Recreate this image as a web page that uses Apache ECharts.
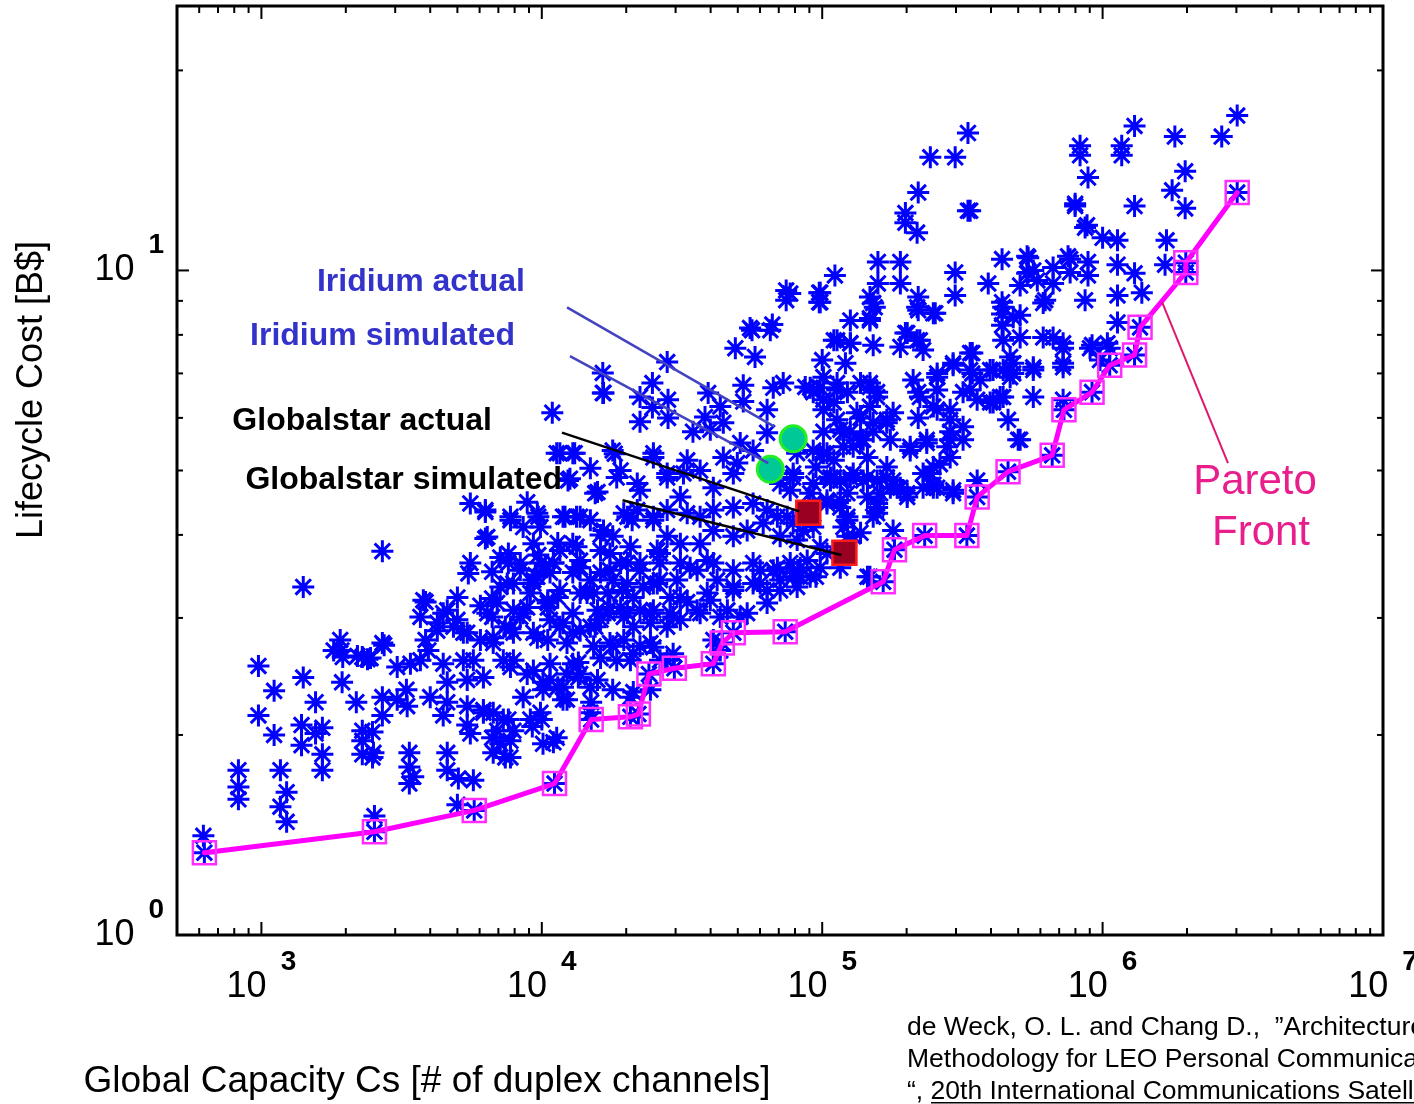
<!DOCTYPE html>
<html><head><meta charset="utf-8">
<script src="https://cdn.jsdelivr.net/npm/echarts@6/dist/echarts.min.js"></script>
<style>html,body{margin:0;padding:0;background:#fff;overflow:hidden}#c{width:1414px;height:1104px}</style>
</head><body><div id="c"></div>
<script>
// ---------- axis ranges & ticks ----------
const xRange = [500, 1e7];
const yRange = [1, 25];
const xMajorTicks = [1e3, 1e4, 1e5, 1e6, 1e7];
const xMinorTicks = [600,700,800,900, 2e3,3e3,4e3,5e3,6e3,7e3,8e3,9e3, 2e4,3e4,4e4,5e4,6e4,7e4,8e4,9e4,
  2e5,3e5,4e5,5e5,6e5,7e5,8e5,9e5, 2e6,3e6,4e6,5e6,6e6,7e6,8e6,9e6];
const yMajorTicks = [1, 10];
const yMinorTicks = [2,3,4,5,6,7,8,9,20];

// ---------- simulated architectures (Global capacity, Lifecycle cost B$) ----------
const simLowLeft = [[1410,3.34],[2700,3.78],[976,2.54],[1410,2.44],[1110,2.33],[1930,2.68],[1950,2.62],[2390,2.60],[2290,2.62],[2740,2.73],[1940,2.40],[1560,2.24],[2180,2.24],[2700,2.28],[2700,2.14],[976,2.14],[1110,2.00],[1390,2.07],[1390,1.93],[1560,2.01],[1650,2.05],[1650,1.87],[1650,1.77],[2290,1.96],[2490,2.02],[2290,1.87],[2490,1.85],[828,1.77],[828,1.67],[828,1.60],[1169,1.77],[1230,1.64],[1169,1.56],[1230,1.48],[3370,1.88],[3370,1.79],[3370,1.69],[3480,1.73],[4600,1.88],[4600,1.77],[5040,1.72],[5700,1.71],[5000,1.57],[2530,1.51],[621,1.41],[1910,2.78],[2700,2.75],[1810,2.68],[2200,2.63],[2450,2.61],[2290,2.03],[2510,1.88]];
const simLowMid = [[3850,3.17],[5000,3.22],[4600,3.08],[3690,3.01],[5000,2.98],[4240,2.95],[6650,3.21],[6650,3.01],[6040,3.13],[5250,2.85],[6040,2.78],[6710,2.75],[3850,2.78],[3940,2.68],[3690,2.59],[3050,2.53],[3400,2.56],[4450,2.56],[5250,2.59],[5700,2.59],[7290,2.59],[5420,2.42],[6190,2.44],[4600,2.40],[3290,2.34],[3050,2.26],[4000,2.28],[4600,2.24],[3310,2.21],[4450,2.14],[5420,2.21],[5420,2.07],[6190,2.16],[6710,2.16],[7290,2.11],[6650,1.98],[7110,1.94],[6710,1.88],[7410,1.85]];
const simCore1 = [[10900,6.11],[16600,6.54],[11600,5.31],[13100,5.31],[12400,4.83],[14900,5.04],[18200,5.30],[18500,4.88],[15500,4.62],[22400,4.67],[25000,5.23],[28000,4.88],[25000,4.21],[5560,4.46],[6290,4.33],[7730,4.21],[8870,4.48],[9720,4.26],[9890,4.11],[12100,4.26],[13700,4.26],[19600,4.31],[21000,4.21],[6290,3.95],[11400,3.89],[13300,3.84],[16200,4.00],[17500,3.75],[26400,3.75],[7600,3.75],[9720,3.73],[10300,3.60],[5560,3.63],[5470,3.50],[6650,3.52],[7600,3.63],[9480,3.48],[9330,3.38],[13500,3.57],[14900,3.42],[20200,3.63],[22400,3.63],[17900,3.42],[7110,3.34],[7920,3.38],[9100,3.27],[10500,3.19],[11400,3.22],[15300,3.27],[19400,3.30],[25800,3.38],[28700,3.22],[3780,3.19],[4450,3.05],[6390,3.05],[7920,3.08],[8870,3.11],[4240,2.87],[4840,2.91],[5420,2.85],[6710,2.80],[7730,2.89],[9330,2.85],[10700,2.98],[11900,2.95],[13700,2.87],[15500,2.91],[17200,3.05],[19100,3.11],[22400,3.08],[24400,2.95],[28700,3.05],[7920,2.85],[10500,2.78],[12300,2.75],[12900,2.56],[15300,2.72],[17900,2.72],[21200,2.65],[24400,2.75],[28000,2.59],[7920,2.59],[9330,2.50],[10700,2.42],[11900,2.36],[13700,2.47],[15800,2.42],[8580,2.28],[10100,2.34],[11900,2.26],[14900,2.36],[17900,2.34],[20700,2.28],[7920,2.03],[9100,2.11],[10100,1.94],[11300,1.98],[9890,2.16],[14900,2.16],[6190,2.18],[6930,2.03],[7600,2.11],[7730,1.85],[5560,2.01]];
const simCore2 = [[7730,1.96],[9250,2.06],[10000,2.11],[11000,1.95],[15000,2.24],[21200,2.32],[24400,2.34],[10700,2.56],[12300,2.47],[11400,2.36],[12300,2.26],[13500,2.44],[13500,2.57],[7730,2.53],[8870,2.47],[10100,2.40],[7410,2.91],[8380,3.01],[9640,2.80],[10500,3.16],[11600,2.91],[12900,2.85],[14900,2.91],[16200,2.98],[17500,2.75],[18500,2.59],[16200,2.61],[19600,2.78],[20700,2.59],[22400,2.72],[25000,2.71],[29400,2.65],[26400,2.59],[17500,3.11],[20200,3.05],[21200,2.91],[25000,3.08],[28000,2.91],[31200,2.98],[33000,3.17],[36700,3.05],[39900,3.19],[45900,3.08],[51000,3.01],[42200,3.42],[48200,3.34],[56700,3.38],[63600,3.30],[78800,3.46],[90600,3.46],[98400,3.57],[83500,3.57],[69200,3.57],[60100,3.54],[9330,3.42],[10700,3.51],[12900,3.51],[14500,3.27],[13700,3.57],[17500,3.54],[20200,3.38],[23000,3.34],[26400,3.42],[30400,3.42],[33800,3.57],[38900,3.66],[7530,3.38],[8380,3.63],[9890,3.63],[11000,3.63],[40900,2.78],[43300,2.68]];
const simCore3 = [[28000,7.28],[49000,7.64],[57600,7.41],[56200,8.13],[65300,8.13],[16500,7.01],[16500,6.54],[24800,6.77],[22400,6.45],[28200,6.39],[24800,6.22],[22400,5.92],[28200,6.00],[39200,6.54],[43300,6.24],[38200,6.02],[44400,5.90],[34600,5.72],[39900,5.76],[52300,6.72],[52300,6.35],[63600,6.17],[63600,5.70],[72600,6.77],[66900,6.66],[87000,6.68],[51000,5.50],[44400,5.23],[49800,5.13],[48200,4.95],[56700,5.36],[78800,4.88],[70800,4.78],[81400,5.31],[17900,5.36],[19100,5.00],[25000,5.31],[21900,4.78],[28000,4.95],[33000,5.18],[32000,4.95],[36700,5.00],[40900,4.71],[12900,5.31],[11300,5.31],[12600,4.86],[15800,4.64],[31200,4.56],[28000,4.36],[25000,4.26],[21900,4.36],[33000,4.31],[36700,4.26],[40900,4.36],[48200,4.40],[56700,4.46],[63600,4.36],[69200,4.26],[20200,4.26],[17900,3.98],[16600,4.06],[14900,4.21],[13300,4.26],[11900,4.26],[9640,4.31],[8580,4.11],[7730,4.26],[6290,4.36],[6390,3.97],[28000,3.98],[25800,3.79],[31200,3.88],[36700,3.88],[40900,4.06],[48200,3.98],[54000,4.06],[61600,4.17],[70800,3.98],[78800,4.17],[85600,4.06],[9330,3.88],[11600,3.79],[12900,3.88],[16200,3.79],[20700,3.84],[11000,3.63],[13700,3.66],[16200,3.51],[19100,3.63],[22400,3.54],[26400,3.63],[31200,3.63],[35800,3.54],[40900,3.63],[48200,3.54],[56700,3.63],[66900,3.54],[76900,3.63],[83500,3.46],[7110,3.70],[8380,3.54],[9640,3.46],[11600,3.30],[13700,3.27],[17200,3.27],[21200,3.22],[25000,3.38],[31200,3.22],[38900,3.27],[48200,3.30],[60100,3.38],[70800,3.30],[6930,3.16],[8580,3.05],[10500,3.11],[12900,3.05],[15800,3.08],[19600,3.01],[24400,3.05],[29400,3.01],[35800,3.08],[43300,3.01],[54000,3.05],[63600,3.16]];
const simUpper1 = [[152000,8.93],[218000,8.80],[249000,8.62],[442000,8.80],[480000,8.50],[614000,8.93],[126000,8.41],[148000,8.41],[126000,7.77],[110000,7.85],[152000,7.72],[201000,8.05],[223000,7.85],[190000,7.67],[229000,7.59],[293000,7.25],[337000,7.51],[337000,7.08],[397000,7.08],[442000,7.08],[480000,7.00],[566000,7.08],[566000,6.45],[431000,6.45],[407000,6.33],[366000,6.84],[318000,6.56],[211000,6.84],[257000,6.91],[223000,6.45],[249000,6.24],[286000,6.17],[318000,5.82],[286000,5.72],[279000,5.43],[318000,5.56],[460000,5.96],[500000,5.56],[179000,6.11],[170000,5.90],[152000,5.90],[137000,6.00],[148000,6.68],[157000,6.45],[137000,6.77],[123000,6.56],[113000,6.61],[110000,6.33],[101000,6.17],[98400,6.66],[92900,6.56],[116000,5.76],[206000,5.36],[236000,5.50],[249000,5.06],[229000,4.95],[263000,5.11],[249000,4.71],[201000,4.62],[179000,4.83],[170000,5.06],[157000,4.83],[145000,5.23],[140000,5.56],[129000,5.43],[119000,5.70],[293000,4.62],[257000,4.71],[179000,4.06],[148000,3.46],[92900,5.36],[104000,5.31],[95000,5.06],[110000,5.18],[107000,4.88],[92900,4.78],[116000,4.83],[129000,4.95],[123000,4.62],[145000,4.56],[161000,4.62],[157000,4.40],[175000,4.71],[116000,4.40],[104000,4.51],[92900,4.46],[123000,4.21],[123000,3.98],[137000,4.03],[152000,4.26]];
const simUpper2 = [[198000,12.2],[198000,11.8],[218000,11.4],[337000,12.3],[798000,12.5],[880000,11.7],[1000000,11.2],[111000,9.83],[158000,10.3],[190000,10.3],[158000,9.56],[190000,9.56],[98400,9.26],[98400,8.96],[76900,9.23],[148000,9.12],[154000,8.80],[220000,9.12],[220000,8.71],[253000,8.62],[148000,8.47],[298000,9.93],[298000,9.17],[391000,9.56],[438000,10.4],[543000,10.45],[543000,9.93],[508000,9.49],[585000,9.66],[666000,10.1],[666000,9.56],[766000,10.4],[766000,9.93],[887000,10.3],[887000,9.83],[866000,9.02],[624000,9.02],[438000,8.96],[438000,8.60],[438000,8.27],[508000,8.56],[442000,7.85],[508000,7.93],[614000,7.93],[666000,7.93],[723000,7.77],[723000,7.25],[917000,7.72],[1040000,7.77],[113000,7.85],[126000,7.77],[198000,8.05],[218000,7.85],[100000,7.33],[121000,7.25],[101000,6.91],[90600,6.66],[113000,6.77],[101000,6.39],[148000,6.77],[157000,6.56],[220000,6.56],[257000,7.00],[257000,6.61],[257000,6.17],[220000,6.00],[293000,7.20],[343000,7.51],[343000,7.00],[407000,7.08],[468000,7.41],[468000,7.08],[566000,7.15],[337000,6.61],[357000,6.39],[397000,6.33],[442000,6.45],[508000,5.56],[286000,5.96],[286000,5.56],[236000,5.56],[206000,5.43],[286000,5.23],[243000,4.95],[133000,6.11],[148000,6.24],[170000,5.96],[152000,5.72],[137000,5.56],[126000,5.72],[113000,5.96],[101000,5.72],[101000,5.31],[119000,5.43],[110000,4.88],[126000,4.88],[145000,4.88],[170000,4.88],[190000,4.71],[229000,4.71],[175000,5.56]];
const simTopRight = [[331000,16.1],[243000,14.8],[298000,14.8],[220000,13.1],[331000,12.3],[831000,15.4],[831000,14.9],[1170000,15.4],[1170000,14.9],[1300000,16.5],[1810000,15.9],[2660000,15.9],[3020000,17.1],[887000,13.8],[798000,12.6],[866000,11.6],[1130000,11.1],[1690000,11.1],[1670000,10.2],[1770000,13.2],[1970000,14.1],[1970000,12.4],[1300000,12.5],[1130000,10.2],[1300000,9.90],[1130000,9.17],[1380000,9.26],[1130000,8.35],[538000,10.5],[538000,9.90],[753000,10.5],[566000,10.0],[723000,7.64],[723000,7.15],[902000,7.64],[1060000,7.64],[979000,7.33],[480000,7.25],[468000,6.91],[723000,6.39]];
const simNearMarkers = [[357000,4.83],[145000,3.46],[293000,4.67],[249000,4.76],[201000,4.56],[185000,4.71],[157000,4.46],[157000,4.31],[140000,4.83],[107000,4.83],[116000,4.51],[123000,4.26],[129000,3.98],[119000,4.11],[104000,4.46],[90600,4.62],[78800,4.95],[76900,4.67],[75000,4.26],[81400,3.93],[92900,4.11],[98400,3.84],[88400,3.66],[78800,3.51],[95000,3.46],[116000,3.57],[104000,3.75],[70800,3.42],[81400,3.34],[97600,9.26],[97600,8.96],[74400,9.33],[74400,9.02],[66400,8.29],[55300,8.19]];

// ---------- Pareto front (non-dominated designs) ----------
const paretoFront = [[626,1.33],[2530,1.43],[5740,1.54],[11100,1.69],[15000,2.11],[20700,2.13],[22100,2.15],[24100,2.47],[29700,2.52],[40900,2.56],[44000,2.75],[48200,2.85],[73800,2.86],[165000,3.40],[181000,3.80],[232000,3.99],[328000,3.99],[357000,4.56],[460000,4.98],[661000,5.27],[728000,6.17],[917000,6.56],[1060000,7.20],[1300000,7.46],[1360000,8.21],[1980000,9.93],[1980000,10.27],[3020000,13.1]];

// ---------- actual / simulated systems ----------
const iridiumPoints = [[78800,5.58],[65300,5.02]];      // actual, simulated
const globalstarPoints = [[89200,4.32],[120000,3.76]];  // actual, simulated

// ---------- annotation leader lines (data coordinates) ----------
const leaderIridiumActual = [[12300,8.80],[67500,5.82]];
const leaderIridiumSim = [[12600,7.43],[64200,5.13]];
const leaderGlobalstarActual = [[11800,5.70],[82800,4.34]];
const leaderGlobalstarSim = [[19400,4.51],[117000,3.73]];
const leaderPareto = [[1630000,8.96],[2800000,5.13]];

const FONT = "'Liberation Sans', Arial, sans-serif";
const simAll = [].concat(simLowLeft, simLowMid, simCore1, simCore2, simCore3, simUpper1, simUpper2, simTopRight, simNearMarkers, paretoFront);
const starPath = 'path://M0,-10L0,10M-10,0L10,0M-7,-7L7,7M-7,7L7,-7';

function powLabel(v) {
  const e = Math.log10(v);
  const r = Math.round(e);
  if (Math.abs(e - r) < 1e-6) return '{b|10}{s|' + r + '}';
  return '';
}
const richLbl = {
  b: {fontSize: 36, fontFamily: FONT, color: '#000', lineHeight: 57, verticalAlign: 'bottom'},
  s: {fontSize: 28, fontFamily: FONT, fontWeight: 'bold', color: '#000', lineHeight: 28, verticalAlign: 'top', padding: [0, 0, 0, 14]}
};

function leader(data, color, w) {
  return {type: 'line', data: data, showSymbol: false, symbol: 'none', silent: true, z: 8,
    lineStyle: {color: color, width: w}, animation: false};
}

const chart = echarts.init(document.getElementById('c'), null, {renderer: 'canvas'});
chart.setOption({
  animation: false,
  backgroundColor: '#fff',
  grid: {left: 177, right: 31, top: 6, bottom: 169, show: true, borderColor: '#000', borderWidth: 3, backgroundColor: 'rgba(0,0,0,0)', containLabel: false, outerBoundsMode: 'none'},
  xAxis: {type: 'log', logBase: 10, min: xRange[0], max: xRange[1],
    axisLine: {show: false}, axisTick: {show: false}, splitLine: {show: false}, minorTick: {show: false},
    axisLabel: {show: true, margin: 13, formatter: powLabel, rich: richLbl, showMinLabel: true, showMaxLabel: true}},
  yAxis: {type: 'log', logBase: 10, min: yRange[0], max: yRange[1],
    axisLine: {show: false}, axisTick: {show: false}, splitLine: {show: false}, minorTick: {show: false},
    axisLabel: {show: true, margin: 13, formatter: powLabel, rich: richLbl, padding: [0, 0, 21, 0], showMinLabel: true, showMaxLabel: true}},
  series: [
    {type: 'scatter', data: simAll, symbol: starPath, symbolSize: 22, z: 2, silent: true, progressive: 0, large: false,
      itemStyle: {color: 'rgba(0,0,0,0)', borderColor: '#0000ff', borderWidth: 3, opacity: 1}},
    {type: 'line', data: paretoFront, symbol: 'rect', symbolSize: 23, showSymbol: true, z: 4, silent: true,
      lineStyle: {color: '#ff00ff', width: 5, join: 'round', cap: 'round'},
      itemStyle: {color: 'rgba(0,0,0,0)', borderColor: '#ff2cff', borderWidth: 2.5, opacity: 1}},
    {type: 'scatter', data: iridiumPoints, symbol: 'circle', symbolSize: 26, z: 6, silent: true,
      itemStyle: {color: '#00c896', borderColor: '#22ee22', borderWidth: 3, opacity: 1}},
    {type: 'scatter', data: globalstarPoints, symbol: 'rect', symbolSize: 24, z: 6, silent: true,
      itemStyle: {color: '#990022', borderColor: '#ff1a1a', borderWidth: 2.5, opacity: 1}},
    leader(leaderIridiumActual, '#4343c0', 2.5),
    leader(leaderIridiumSim, '#4343c0', 2.5),
    leader(leaderGlobalstarActual, '#000000', 2.5),
    leader(leaderGlobalstarSim, '#000000', 2.5),
    leader(leaderPareto, '#e0186c', 2),
    {type: 'custom', coordinateSystem: 'cartesian2d', data: [[xRange[0], yRange[0]]], z: 10, silent: true, clip: false,
      renderItem: function (params, api) {
        const bl = api.coord([xRange[0], yRange[0]]);
        const tr = api.coord([xRange[1], yRange[1]]);
        const L = bl[0], B = bl[1], R = tr[0], T = tr[1];
        const ch = [];
        function add(x1, y1, x2, y2) {
          ch.push({type: 'line', shape: {x1: x1, y1: y1, x2: x2, y2: y2}, style: {stroke: '#000', lineWidth: 2}});
        }
        xMajorTicks.forEach(function (v) { const x = api.coord([v, yRange[0]])[0]; add(x, B, x, B - 13); add(x, T, x, T + 13); });
        xMinorTicks.forEach(function (v) { const x = api.coord([v, yRange[0]])[0]; add(x, B, x, B - 7); add(x, T, x, T + 7); });
        yMajorTicks.forEach(function (v) { const y = api.coord([xRange[0], v])[1]; add(L, y, L + 12, y); add(R, y, R - 12, y); });
        yMinorTicks.forEach(function (v) { const y = api.coord([xRange[0], v])[1]; add(L, y, L + 6, y); add(R, y, R - 6, y); });
        return {type: 'group', children: ch};
      }}
  ],
  graphic: [
    {type: 'text', x: 525, y: 282, z: 20, style: {text: 'Iridium actual', font: 'bold 32px ' + FONT, fill: '#3333cc', textAlign: 'right', textVerticalAlign: 'middle', verticalAlign: 'middle'}},
    {type: 'text', x: 515, y: 336, z: 20, style: {text: 'Iridium simulated', font: 'bold 32px ' + FONT, fill: '#3333cc', textAlign: 'right', textVerticalAlign: 'middle', verticalAlign: 'middle'}},
    {type: 'text', x: 492, y: 421, z: 20, style: {text: 'Globalstar actual', font: 'bold 32px ' + FONT, fill: '#000', textAlign: 'right', textVerticalAlign: 'middle', verticalAlign: 'middle'}},
    {type: 'text', x: 562, y: 480, z: 20, style: {text: 'Globalstar simulated', font: 'bold 32px ' + FONT, fill: '#000', textAlign: 'right', textVerticalAlign: 'middle', verticalAlign: 'middle'}},
    {type: 'text', x: 1255, y: 482, z: 20, style: {text: 'Pareto', font: '42px ' + FONT, fill: '#e81e8c', textAlign: 'center', textVerticalAlign: 'middle', verticalAlign: 'middle'}},
    {type: 'text', x: 1261, y: 533, z: 20, style: {text: 'Front', font: '42px ' + FONT, fill: '#e81e8c', textAlign: 'center', textVerticalAlign: 'middle', verticalAlign: 'middle'}},
    {type: 'text', x: 32, y: 390, rotation: Math.PI / 2, z: 20, style: {text: 'Lifecycle Cost [B$]', font: '36px ' + FONT, fill: '#000', textAlign: 'center', textVerticalAlign: 'middle', verticalAlign: 'middle'}},
    {type: 'text', x: 427, y: 1082, z: 20, style: {text: 'Global Capacity Cs [# of duplex channels]', font: '37px ' + FONT, fill: '#000', textAlign: 'center', textVerticalAlign: 'middle', verticalAlign: 'middle'}},
    {type: 'text', x: 907, y: 1028, z: 20, style: {text: 'de Weck, O. L. and Chang D.,  \u201DArchitecture Trade', font: '26.5px ' + FONT, fill: '#000', textAlign: 'left', textVerticalAlign: 'middle', verticalAlign: 'middle'}},
    {type: 'text', x: 907, y: 1060, z: 20, style: {text: 'Methodology for LEO Personal Communication Systems', font: '26.5px ' + FONT, fill: '#000', textAlign: 'left', textVerticalAlign: 'middle', verticalAlign: 'middle'}},
    {type: 'text', x: 907, y: 1092, z: 20, style: {text: '\u201C, 20th International Communications Satellite Systems Conference', font: '26.5px ' + FONT, fill: '#000', textAlign: 'left', textVerticalAlign: 'middle', verticalAlign: 'middle'}},
    {type: 'rect', x: 931, y: 1102, z: 20, shape: {width: 500, height: 1.5}, style: {fill: '#000'}}
  ]
});
</script>
</body></html>
